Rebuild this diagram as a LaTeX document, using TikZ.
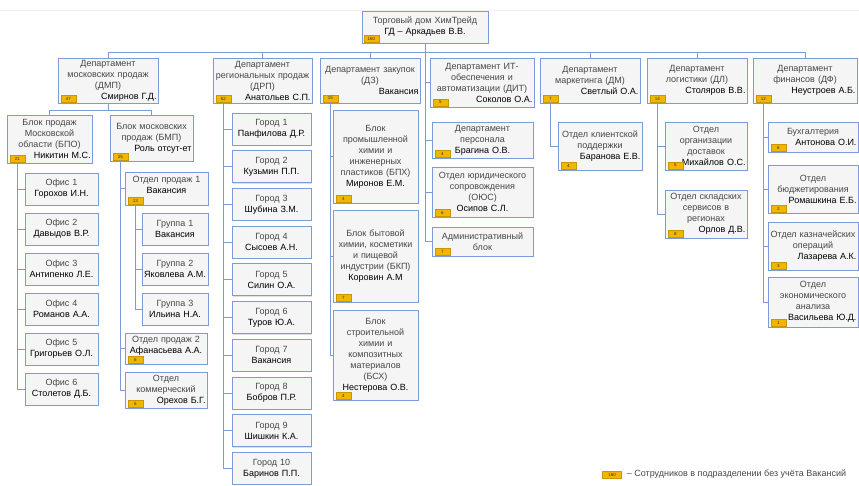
\documentclass[tikz,border=0pt]{standalone}
\usepackage{fontspec}
\setmainfont{Liberation Sans}
\usetikzlibrary{shadows}

\definecolor{unitblue}{HTML}{7B9BDA}
\definecolor{unitfill}{HTML}{F5F5F5}
\definecolor{badgefill}{HTML}{F2B600}
\definecolor{badgeedge}{HTML}{C99700}
\definecolor{titlegray}{HTML}{474747}

\newcommand{\who}[1]{\textcolor{black}{#1}}
\newcommand{\rwho}[1]{\hspace*{\fill}\textcolor{black}{#1}}
\newcommand{\liftup}{\\[-3pt]\mbox{}}

\tikzset{
  unit/.style 2 args={draw=unitblue, fill=unitfill, line width=0.7pt,
    align=center, inner sep=0pt, minimum width=#1pt, minimum height=#2pt,
    text width={#1pt-3pt}, font=\fontsize{9}{11}\selectfont, text=titlegray,
    drop shadow={shadow xshift=1pt, shadow yshift=-1pt, opacity=0.3, fill=black!40}},
  badge/.style={draw=badgeedge, fill=badgefill, line width=0.3pt, anchor=south west,
    minimum width=15pt, minimum height=6.5pt, inner sep=0pt,
    font=\fontsize{4.5}{5}\selectfont, text=black!80},
  link/.style={draw=unitblue, line width=0.7pt},
}

\begin{document}
\begin{tikzpicture}[x=1pt, y=-1pt]
  \useasboundingbox (0,0) rectangle (859,485);
  \draw[gray!12] (0,10) -- (859,10);

  % general director
  \node[unit={126}{32}] (root) at (425,27) {Торговый дом ХимТрейд\\ \who{ГД – Аркадьев В.В.}};
  \node[badge] (rootb) at ([shift={(2pt,1.5pt)}]root.south west) {160};
  \coordinate (bus) at (425,52);

  % departments
  \node[unit={100}{45}] (dmp) at (108,80.5) {Департамент\\ московских продаж\\ (ДМП)\\ \rwho{Смирнов Г.Д.}};
  \node[badge] (dmpb) at ([shift={(3pt,1.5pt)}]dmp.south west) {47};
  \node[unit={99}{45}] (drp) at (262.5,80.5) {Департамент\\ региональных продаж\\ (ДРП)\\ \rwho{Анатольев С.П.}};
  \node[badge] (drpb) at ([shift={(3pt,1.5pt)}]drp.south west) {62};
  \node[unit={100}{45}] (dz) at (370,80.5) {Департамент закупок\\ (ДЗ)\\ \rwho{Вакансия}};
  \node[badge] (dzb) at ([shift={(3pt,1.5pt)}]dz.south west) {15};
  \node[unit={104}{49}] (dit) at (482,82.5) {Департамент ИТ-\\ обеспечения и\\ автоматизации (ДИТ)\\ \rwho{Соколов О.А.}};
  \node[badge] (ditb) at ([shift={(3pt,1.5pt)}]dit.south west) {5};
  \node[unit={100}{45}] (dm) at (590,80.5) {Департамент\\ маркетинга (ДМ)\\ \rwho{Светлый О.А.}};
  \node[badge] (dmb) at ([shift={(3pt,1.5pt)}]dm.south west) {7};
  \node[unit={100}{45}] (dl) at (697,80.5) {Департамент\\ логистики (ДЛ)\\ \rwho{Столяров В.В.}};
  \node[badge] (dlb) at ([shift={(3pt,1.5pt)}]dl.south west) {14};
  \node[unit={104}{45}] (df) at (805,80.5) {Департамент\\ финансов (ДФ)\\ \rwho{Неустроев А.Б.}};
  \node[badge] (dfb) at ([shift={(3pt,1.5pt)}]df.south west) {12};

  % moscow sales
  \coordinate (dmpbus) at (108,110);
  \node[unit={85}{48}] (bpo) at (49.5,139) {Блок продаж\\ Московской\\ области (БПО)\\ \rwho{Никитин М.С.}};
  \node[badge] (bpob) at ([shift={(3pt,1.5pt)}]bpo.south west) {21};
  \node[unit={83}{46}] (bmp) at (151.5,138) {Блок московских\\ продаж (БМП)\\ \rwho{Роль отсут-ет}};
  \node[badge] (bmpb) at ([shift={(3pt,1.5pt)}]bmp.south west) {25};

  \node[unit={73}{32}] (of1) at (61.5,189) {Офис 1\\ \who{Горохов И.Н.}};
  \node[unit={73}{32}] (of2) at (61.5,229) {Офис 2\\ \who{Давыдов В.Р.}};
  \node[unit={73}{32}] (of3) at (61.5,269) {Офис 3\\ \who{Антипенко Л.Е.}};
  \node[unit={73}{32}] (of4) at (61.5,309) {Офис 4\\ \who{Романов А.А.}};
  \node[unit={73}{32}] (of5) at (61.5,349) {Офис 5\\ \who{Григорьев О.Л.}};
  \node[unit={73}{32}] (of6) at (61.5,389) {Офис 6\\ \who{Столетов Д.Б.}};

  \node[unit={83}{33}] (op1) at (166.5,188.5) {Отдел продаж 1\\ \who{Вакансия}\liftup};
  \node[badge] (op1b) at ([shift={(3pt,1.5pt)}]op1.south west) {13};
  \node[unit={66}{32}] (gr1) at (175,229) {Группа 1\\ \who{Вакансия}};
  \node[unit={66}{32}] (gr2) at (175,269) {Группа 2\\ \who{Яковлева А.М.}};
  \node[unit={66}{32}] (gr3) at (175,309) {Группа 3\\ \who{Ильина Н.А.}};
  \node[unit={82}{31}] (op2) at (166,348.5) {Отдел продаж 2\\ \who{Афанасьева А.А.}\liftup};
  \node[badge] (op2b) at ([shift={(3pt,1.5pt)}]op2.south west) {6};
  \node[unit={82}{36}] (kom) at (166,390) {Отдел\\ коммерческий\\ \rwho{Орехов Б.Г.}};
  \node[badge] (komb) at ([shift={(3pt,1.5pt)}]kom.south west) {6};

  % regional sales
  \node[unit={79}{32}] (c1) at (271.5,129) {Город 1\\ \who{Панфилова Д.Р.}};
  \node[unit={79}{32}] (c2) at (271.5,166.7) {Город 2\\ \who{Кузьмин П.П.}};
  \node[unit={79}{32}] (c3) at (271.5,204.4) {Город 3\\ \who{Шубина З.М.}};
  \node[unit={79}{32}] (c4) at (271.5,242.1) {Город 4\\ \who{Сысоев А.Н.}};
  \node[unit={79}{32}] (c5) at (271.5,279.8) {Город 5\\ \who{Силин О.А.}};
  \node[unit={79}{32}] (c6) at (271.5,317.5) {Город 6\\ \who{Туров Ю.А.}};
  \node[unit={79}{32}] (c7) at (271.5,355.2) {Город 7\\ \who{Вакансия}};
  \node[unit={79}{32}] (c8) at (271.5,392.9) {Город 8\\ \who{Бобров П.Р.}};
  \node[unit={79}{32}] (c9) at (271.5,430.6) {Город 9\\ \who{Шишкин К.А.}};
  \node[unit={79}{32}] (c10) at (271.5,468.3) {Город 10\\ \who{Баринов П.П.}};

  % purchasing
  \node[unit={85}{93}] (bpx) at (375.5,156.5) {Блок\\ промышленной\\ химии и\\ инженерных\\ пластиков (БПХ)\\ \who{Миронов Е.М.}};
  \node[badge] (bpxb) at ([shift={(3pt,1.5pt)}]bpx.south west) {4};
  \node[unit={85}{92}] (bkp) at (375.5,256) {Блок бытовой\\ химии, косметики\\ и пищевой\\ индустрии (БКП)\\ \who{Коровин А.М}};
  \node[badge] (bkpb) at ([shift={(3pt,1.5pt)}]bkp.south west) {7};
  \node[unit={85}{90}] (bsx) at (375.5,355) {Блок\\ строительной\\ химии и\\ композитных\\ материалов\\ (БСХ)\\ \who{Нестерова О.В.}};
  \node[badge] (bsxb) at ([shift={(3pt,1.5pt)}]bsx.south west) {4};

  % staff units
  \node[unit={101}{36}] (pers) at (482.5,140) {Департамент\\ персонала\\ \who{Брагина О.В.}};
  \node[badge] (persb) at ([shift={(3pt,1.5pt)}]pers.south west) {4};
  \node[unit={101}{50}] (ojs) at (482.5,192) {Отдел юридического\\ сопровождения\\ (ОЮС)\\ \who{Осипов С.Л.}};
  \node[badge] (ojsb) at ([shift={(3pt,1.5pt)}]ojs.south west) {6};
  \node[unit={101}{29}] (adm) at (482.5,241.5) {Административный\\ блок};
  \node[badge] (admb) at ([shift={(3pt,1.5pt)}]adm.south west) {7};

  % marketing, logistics
  \node[unit={84}{48}] (kp) at (600,146) {Отдел клиентской\\ поддержки\\ \rwho{Баранова Е.В.}};
  \node[badge] (kpb) at ([shift={(3pt,1.5pt)}]kp.south west) {4};
  \node[unit={82}{48}] (dost) at (706,146) {Отдел\\ организации\\ доставок\\ \rwho{Михайлов О.С.}};
  \node[badge] (dostb) at ([shift={(3pt,1.5pt)}]dost.south west) {5};
  \node[unit={82}{48}] (skl) at (706,214) {Отдел складских\\ сервисов в\\ регионах\\ \rwho{Орлов Д.В.}};
  \node[badge] (sklb) at ([shift={(3pt,1.5pt)}]skl.south west) {8};

  % finance
  \node[unit={90}{30}] (buh) at (813,137) {Бухгалтерия\\ \rwho{Антонова О.И.}};
  \node[badge] (buhb) at ([shift={(3pt,1.5pt)}]buh.south west) {6};
  \node[unit={90}{48}] (bud) at (813,189) {Отдел\\ бюджетирования\\ \rwho{Ромашкина Е.Б.}};
  \node[badge] (budb) at ([shift={(3pt,1.5pt)}]bud.south west) {2};
  \node[unit={90}{48}] (kazn) at (813,246) {Отдел казначейских\\ операций\\ \rwho{Лазарева А.К.}};
  \node[badge] (kaznb) at ([shift={(3pt,1.5pt)}]kazn.south west) {3};
  \node[unit={90}{50}] (econ) at (813,302) {Отдел\\ экономического\\ анализа\\ \rwho{Васильева Ю.Д.}};
  \node[badge] (econb) at ([shift={(3pt,1.5pt)}]econ.south west) {1};

  % connectors
  \draw[link] (root.south) -- (bus);
  \draw[link] (dmp.north) |- (bus);
  \draw[link] (drp.north) |- (bus);
  \draw[link] (dz.north) |- (bus);
  \draw[link] (dm.north) |- (bus);
  \draw[link] (dl.north) |- (bus);
  \draw[link] (df.north) |- (bus);
  \draw[link] (dit.west) -| (bus);
  \draw[link] (pers.west) -| (bus);
  \draw[link] (ojs.west) -| (bus);
  \draw[link] (adm.west) -| (bus);

  \draw[link] (dmp.south) -- (dmpbus);
  \draw[link] (bpo.north) |- (dmpbus);
  \draw[link] (bmp.north) |- (dmpbus);
  \draw[link] (of1.west) -| (bpob.south);
  \draw[link] (of2.west) -| (bpob.south);
  \draw[link] (of3.west) -| (bpob.south);
  \draw[link] (of4.west) -| (bpob.south);
  \draw[link] (of5.west) -| (bpob.south);
  \draw[link] (of6.west) -| (bpob.south);
  \draw[link] (op1.west) -| (bmpb.south);
  \draw[link] (op2.west) -| (bmpb.south);
  \draw[link] (kom.west) -| (bmpb.south);
  \draw[link] (gr1.west) -| (op1b.south);
  \draw[link] (gr2.west) -| (op1b.south);
  \draw[link] (gr3.west) -| (op1b.south);

  \draw[link] (c1.west) -| (drpb.south);
  \draw[link] (c2.west) -| (drpb.south);
  \draw[link] (c3.west) -| (drpb.south);
  \draw[link] (c4.west) -| (drpb.south);
  \draw[link] (c5.west) -| (drpb.south);
  \draw[link] (c6.west) -| (drpb.south);
  \draw[link] (c7.west) -| (drpb.south);
  \draw[link] (c8.west) -| (drpb.south);
  \draw[link] (c9.west) -| (drpb.south);
  \draw[link] (c10.west) -| (drpb.south);

  \draw[link] (bpx.west) -| (dzb.south);
  \draw[link] (bkp.west) -| (dzb.south);
  \draw[link] (bsx.west) -| (dzb.south);

  \draw[link] (kp.west) -| (dmb.south);
  \draw[link] (dost.west) -| (dlb.south);
  \draw[link] (skl.west) -| (dlb.south);

  \draw[link] (buh.west) -| (dfb.south);
  \draw[link] (bud.west) -| (dfb.south);
  \draw[link] (kazn.west) -| (dfb.south);
  \draw[link] (econ.west) -| (dfb.south);

  % legend
  \node[badge, anchor=center, minimum width=19pt] (legb) at (612,474.5) {160};
  \node[anchor=west, inner sep=0pt, font=\fontsize{9}{11}\selectfont, text=titlegray] (legt)
    at ([xshift=5pt]legb.east) {– Сотрудников в подразделении без учёта Вакансий};
\end{tikzpicture}
\end{document}
